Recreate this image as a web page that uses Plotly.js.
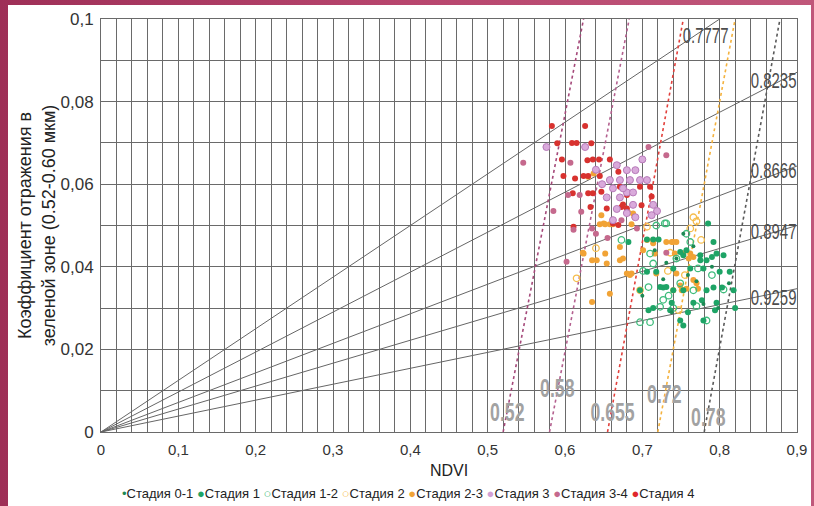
<!DOCTYPE html>
<html>
<head>
<meta charset="utf-8">
<script src="https://cdn.plot.ly/plotly-3.0.1.min.js"></script>
<style>
html,body{margin:0;padding:0}
body{width:814px;height:506px;overflow:hidden;position:relative;background:linear-gradient(90deg,#9e2f57 0%,#b8466e 50%,#c0577a 100%)}
#frame{position:absolute;left:8px;top:5px;width:803px;height:501px;background:#fff}
#chart{position:absolute;left:0;top:0;width:814px;height:506px}
</style>
</head>
<body>
<div id="frame"></div>
<div id="chart"></div>
<script>
// ---- data ----
var stageNames = ['Стадия 0-1','Стадия 1','Стадия 1-2','Стадия 2','Стадия 2-3','Стадия 3','Стадия 3-4','Стадия 4'];

var x01 = [0.716,0.744,0.766,0.790,0.727,0.759,0.812,0.738,0.779,0.700,0.753,0.798,0.731,0.770];
var y01 = [0.0440,0.0420,0.0450,0.0400,0.0370,0.0380,0.0360,0.0290,0.0310,0.0330,0.0480,0.0300,0.0410,0.0365];

var x1 = [0.785,0.706,0.714,0.721,0.792,0.749,0.757,0.775,0.783,0.790,0.796,0.740,0.762,0.779,0.706,0.718,0.800,0.813,0.727,0.753,0.783,0.792,0.803,0.818,0.738,0.766,0.777,0.796,0.714,0.759,0.794,0.820,0.749,0.779,0.682,0.723,0.731,0.753,0.775,0.805,0.697,0.740,0.753,0.708,0.736];
var y1 = [0.0505,0.0466,0.0466,0.0466,0.0460,0.0436,0.0440,0.0416,0.0416,0.0424,0.0432,0.0396,0.0396,0.0396,0.0388,0.0388,0.0388,0.0388,0.0350,0.0343,0.0343,0.0350,0.0350,0.0343,0.0313,0.0313,0.0319,0.0313,0.0300,0.0290,0.0295,0.0300,0.0270,0.0270,0.0460,0.0351,0.0351,0.0428,0.0428,0.0428,0.0343,0.0343,0.0258,0.0295,0.0295];

var x12 = [0.729,0.731,0.718,0.710,0.673,0.701,0.708,0.723,0.697,0.710,0.783,0.740,0.766,0.772,0.714,0.749,0.734,0.762,0.790,0.727,0.744,0.805,0.770,0.757];
var y12 = [0.0505,0.0505,0.0500,0.0432,0.0465,0.0390,0.0351,0.0303,0.0266,0.0266,0.0270,0.0300,0.0343,0.0396,0.0408,0.0360,0.0330,0.0460,0.0380,0.0320,0.0420,0.0345,0.0305,0.0480];

var x2 = [0.615,0.762,0.747,0.706,0.766,0.697,0.736,0.755,0.770,0.640,0.776,0.733];
var y2 = [0.0372,0.0493,0.0295,0.0497,0.0520,0.0343,0.0434,0.0380,0.0510,0.0445,0.0465,0.0390];

var x23 = [0.637,0.630,0.647,0.645,0.652,0.658,0.662,0.682,0.686,0.650,0.688,0.671,0.624,0.652,0.635,0.641,0.671,0.675,0.701,0.686,0.742,0.753,0.760,0.740,0.749,0.635,0.658,0.623,0.654,0.680,0.684,0.744,0.766,0.770,0.757,0.718,0.731,0.738,0.740,0.744,0.762,0.766,0.714,0.716,0.772,0.751,0.706,0.714];
var y23 = [0.0626,0.0618,0.0525,0.0503,0.0503,0.0503,0.0503,0.0531,0.0503,0.0505,0.0529,0.0448,0.0432,0.0432,0.0416,0.0416,0.0416,0.0420,0.0440,0.0384,0.0432,0.0432,0.0420,0.0343,0.0355,0.0315,0.0335,0.0434,0.0408,0.0384,0.0380,0.0384,0.0368,0.0360,0.0347,0.0384,0.0460,0.0460,0.0460,0.0460,0.0432,0.0424,0.0457,0.0432,0.0347,0.0343,0.0465,0.0465];

var x3 = [0.576,0.626,0.667,0.680,0.691,0.658,0.671,0.684,0.697,0.706,0.662,0.680,0.688,0.654,0.671,0.688,0.714,0.719,0.667,0.680,0.662,0.691,0.712,0.648,0.700,0.675,0.640];
var y3 = [0.0690,0.0690,0.0646,0.0634,0.0634,0.0610,0.0610,0.0610,0.0610,0.0610,0.0590,0.0580,0.0580,0.0568,0.0568,0.0550,0.0550,0.0535,0.0540,0.0530,0.0513,0.0520,0.0525,0.0600,0.0660,0.0590,0.0635];

var x34 = [0.546,0.607,0.604,0.619,0.621,0.611,0.635,0.673,0.693,0.708,0.731,0.602,0.731,0.655,0.585,0.640];
var y34 = [0.0652,0.0652,0.0574,0.0574,0.0533,0.0490,0.0493,0.0513,0.0493,0.0690,0.0670,0.0412,0.0434,0.0470,0.0535,0.0480];

var x4 = [0.583,0.626,0.590,0.609,0.615,0.634,0.596,0.629,0.636,0.644,0.658,0.598,0.613,0.624,0.630,0.645,0.669,0.610,0.630,0.636,0.647,0.671,0.697,0.710,0.680,0.712,0.633,0.654,0.673,0.680,0.699,0.675,0.611,0.662,0.669,0.690];
var y4 = [0.0741,0.0741,0.0699,0.0700,0.0700,0.0699,0.0660,0.0658,0.0660,0.0660,0.0660,0.0620,0.0614,0.0620,0.0620,0.0620,0.0630,0.0578,0.0578,0.0578,0.0582,0.0594,0.0594,0.0594,0.0574,0.0570,0.0545,0.0541,0.0545,0.0541,0.0549,0.0551,0.0497,0.0505,0.0501,0.0520];

// lines from the origin (labelled on the right)
var rayLabels = ['0.7777','0.8235','0.8666','0.8947','0.9259'];
var rayEndX = [0.8,0.9,0.9,0.9,0.9];
var rayEndY = [0.1,0.0871,0.0644,0.0500,0.0347];

// dotted NDVI isolines (labelled at the bottom)
var isoLabels = ['0.52','0.58','0.655','0.72','0.78'];
var isoBottomX = [0.52,0.58,0.655,0.72,0.78];
var isoTopX = [0.624,0.683,0.753,0.820,0.878];
var isoBottomY = [0,0,0,0,0];
var isoTopY = [0.1,0.1,0.1,0.1,0.1];

var xTicks = [0,0.1,0.2,0.3,0.4,0.5,0.6,0.7,0.8,0.9];
var yTicks = [0,0.02,0.04,0.06,0.08,0.1];

// ---- styles ----
var FONT = 'Liberation Sans, Arial, sans-serif';
var isoColors = ['#a5497a','#b4608f','#e2403c','#f4b23e','#5a5a5a'];
var rayLabelPos = [[0.782,0.0961],[0.869,0.0852],[0.870,0.0632],[0.870,0.0486],[0.870,0.0326]];
var isoLabelPos = [[0.525,0.0048],[0.590,0.0106],[0.661,0.0048],[0.729,0.0091],[0.786,0.0036]];

var stageStyle = [
  {sym:'circle', size:4, color:'#1c8a55', line:{width:0}, legend:'•', lc:'#1c8a55'},
  {sym:'circle', size:6, color:'#1ea466', line:{width:0}, legend:'●', lc:'#1ea466'},
  {sym:'circle-open', size:6.5, color:'#3fbc7c', line:{width:1.3,color:'#3fbc7c'}, legend:'○', lc:'#3fbc7c'},
  {sym:'circle-open', size:6.5, color:'#f6bd4c', line:{width:1.3,color:'#f6bd4c'}, legend:'○', lc:'#f6bd4c'},
  {sym:'circle', size:6, color:'#f1a336', line:{width:0}, legend:'●', lc:'#f1a336'},
  {sym:'circle', size:7, color:'#d9aadb', line:{width:1,color:'#b77ab9'}, legend:'●', lc:'#d2a0d4'},
  {sym:'circle', size:6, color:'#c5698d', line:{width:0}, legend:'●', lc:'#c5698d'},
  {sym:'circle', size:6, color:'#d8322f', line:{width:0}, legend:'●', lc:'#e0262a'}
];
var stageX = [x01,x1,x12,x2,x23,x3,x34,x4];
var stageY = [y01,y1,y12,y2,y23,y3,y34,y4];

var traces = [];
for (var i=0;i<rayLabels.length;i++){
  traces.push({type:'scatter',mode:'lines',x:[0,rayEndX[i]],y:[0,rayEndY[i]],
    line:{color:'#666',width:1},showlegend:false,hoverinfo:'skip',name:rayLabels[i]});
}
for (var j=0;j<isoLabels.length;j++){
  traces.push({type:'scatter',mode:'lines',x:[isoBottomX[j],isoTopX[j]],y:[isoBottomY[j],isoTopY[j]],
    line:{color:isoColors[j],width:1.6,dash:'dot'},showlegend:false,hoverinfo:'skip',name:isoLabels[j]});
}
var drawOrder = [3,4,7,6,5,2,1,0];
drawOrder.forEach(function(k){
  var s = stageStyle[k];
  traces.push({type:'scatter',mode:'markers',name:stageNames[k],x:stageX[k],y:stageY[k],
    marker:{symbol:s.sym,size:s.size,color:s.color,line:s.line},showlegend:false,cliponaxis:false});
});

var annotations = [];
rayLabels.forEach(function(t,i){
  annotations.push({x:rayLabelPos[i][0],y:rayLabelPos[i][1],xref:'x',yref:'y',text:t,showarrow:false,
    font:{family:FONT,size:22,color:'#4d4d4d'},xanchor:'center',yanchor:'middle',name:'narrow'});
});
isoLabels.forEach(function(t,i){
  annotations.push({x:isoLabelPos[i][0],y:isoLabelPos[i][1],xref:'x',yref:'y',text:t,showarrow:false,
    font:{family:FONT,size:26,color:'#a2a2a2',weight:'bold'},xanchor:'center',yanchor:'middle',name:'narrow'});
});
// legend line built from the stage names and colours
var legendText = stageNames.map(function(n,k){
  return '<span style="color:'+stageStyle[k].lc+'">'+stageStyle[k].legend+'</span>'+n;
}).join(' ');
annotations.push({x:0.441,y:-0.148,xref:'paper',yref:'paper',text:legendText,showarrow:false,
  font:{family:FONT,size:13,color:'#222'},xanchor:'center',yanchor:'middle',name:'legend'});

var gridC = '#6a6a6a';
var layout = {
  width:814,height:506,
  margin:{l:101,r:17,t:19,b:74,pad:0},
  paper_bgcolor:'rgba(0,0,0,0)',plot_bgcolor:'rgba(0,0,0,0)',
  separators:', ',
  font:{family:FONT,color:'#333'},
  showlegend:false,
  xaxis:{range:[0,0.9],tickmode:'array',tickvals:xTicks,showgrid:true,gridcolor:gridC,gridwidth:1,
    minor:{dtick:0.02,tick0:0,showgrid:true,gridcolor:gridC,gridwidth:1},
    zeroline:false,showline:true,linecolor:gridC,linewidth:1,mirror:true,ticks:'',
    tickfont:{family:FONT,size:15,color:'#333'},ticklabelstandoff:4,
    title:{text:'NDVI',font:{family:FONT,size:16,color:'#222'},standoff:7},automargin:false},
  yaxis:{range:[0,0.1],tickmode:'array',tickvals:yTicks,showgrid:true,gridcolor:gridC,gridwidth:1,
    minor:{dtick:0.01,tick0:0,showgrid:true,gridcolor:gridC,gridwidth:1},
    zeroline:false,showline:true,linecolor:gridC,linewidth:1,mirror:true,ticks:'',
    tickfont:{family:FONT,size:17,color:'#333'},ticklabelstandoff:3,
    title:{text:'Коэффициент отражения в<br>зеленой зоне (0.52-0.60 мкм)',font:{family:FONT,size:18,color:'#222'},standoff:0},automargin:false},
  annotations:annotations
};
Plotly.newPlot('chart',traces,layout,{displayModeBar:false,staticPlot:true}).then(function(gd){
  // the reference labels are set in a condensed face: squeeze them horizontally
  var nodes = gd.querySelectorAll('.annotation');
  nodes.forEach(function(g){
    var idx = +g.getAttribute('data-index');
    if (annotations[idx] && annotations[idx].name === 'narrow'){
      var t = g.querySelector('text');
      if (t){
        t.style.transformBox = 'fill-box';
        t.style.transformOrigin = 'center';
        t.style.transform = 'scaleX(0.68)';
      }
    }
  });
});
</script>
</body>
</html>
